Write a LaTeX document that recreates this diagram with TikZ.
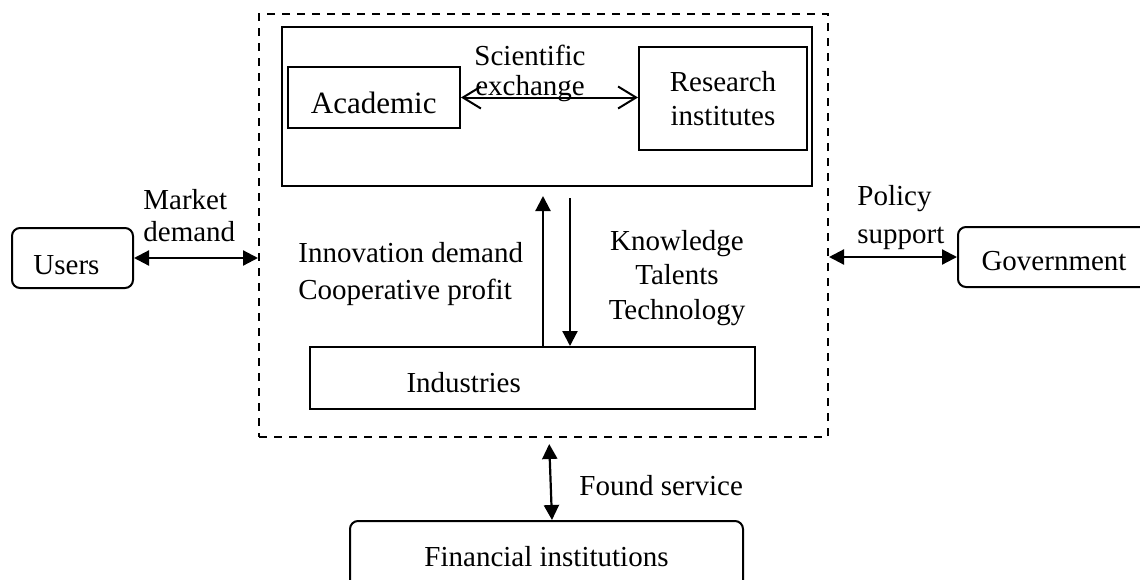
\documentclass[tikz,border=0pt]{standalone}
\usepackage{fontspec}
\setmainfont{Liberation Serif}
\usetikzlibrary{arrows.meta,calc}
\newcommand\dropby[2]{\raisebox{-#1}[\height][\depth]{#2}}
\begin{document}
\begin{tikzpicture}[x=0.5pt,y=-0.5pt,
  box/.style={draw, line width=1pt, inner sep=0pt, font=\fontsize{14.5}{17}\selectfont},
  rbox/.style={box, rounded corners=4pt},
  lbl/.style={inner sep=0pt},
  arr/.style={line width=1.1pt, {Triangle[length=7.5pt,width=7.5pt]}-{Triangle[length=7.5pt,width=7.5pt]}},
  uarr/.style={line width=1.1pt, -{Triangle[length=7.5pt,width=7.5pt]}},
  barbarr/.style={line width=1pt, {Straight Barb[length=9pt,width=11pt,line width=1pt]}-{Straight Barb[length=9pt,width=11pt,line width=1pt]}}
]
\useasboundingbox (0,0) rectangle (1140,579);
\clip (0,0) rectangle (1140,579);

% boxes
\node[box, dash pattern=on 4pt off 3.5pt, minimum width=284.5pt, minimum height=211.5pt] (outer) at (543.5,225.5) {};
\node[box, minimum width=265pt, minimum height=79.5pt] (inner) at (547,106.5) {};
\node[box, minimum width=86.25pt, minimum height=30.5pt, font=\fontsize{15.5}{18}\selectfont] (acad) at (373.75,97.5) {\dropby{2.5pt}{Academic}};
\node[box, minimum width=84pt, minimum height=51.5pt, align=center] (res) at (723,98.5) {Research\\institutes};
\node[box, minimum width=222.5pt, minimum height=31pt] (ind) at (532.5,378) {\makebox[222.5pt][l]{\hspace{48.25pt}\dropby{2.5pt}{Industries}}};
\node[rbox, minimum width=60.5pt, minimum height=30pt] (users) at (72.5,258) {\dropby{3.5pt}{Users}\hspace*{6pt}};
\node[rbox, minimum width=96pt, minimum height=30pt] (gov) at (1054,257) {\dropby{2pt}{Government}};
\node[rbox, minimum width=196.5pt, minimum height=35.5pt] (fin) at (546.5,556.5) {Financial institutions};

% labels
\node[lbl, align=center, font=\fontsize{14.5}{15}\selectfont] (scilbl) at (530,73.5) {Scientific\\exchange};
\node[lbl, align=left, anchor=west, font=\fontsize{14.5}{16}\selectfont] (mktlbl) at (143,216) {Market\\demand};
\node[lbl, align=left, anchor=west, font=\fontsize{14.5}{19}\selectfont] (pollbl) at (857,217.5) {Policy\\support};
\node[lbl, align=left, anchor=west, font=\fontsize{14.5}{18.5}\selectfont] (innlbl) at (298,274) {Innovation demand\\Cooperative profit};
\node[lbl, align=center, font=\fontsize{14.5}{17.25}\selectfont] (knwlbl) at (677,278) {Knowledge\\Talents\\Technology};
\node[lbl, anchor=base west, font=\fontsize{14.5}{17}\selectfont] (fndlbl) at (579,495) {Found service};

% connectors
\coordinate (xup) at (543,0);
\coordinate (xdn) at (570,0);
\coordinate (fa) at (549,0);
\coordinate (fb) at (552,0);
\draw[arr] (users.east) -- (users.east -| outer.west);
\draw[arr] (gov.west -| outer.east) -- (gov.west);
\draw[barbarr] (acad.east) -- (acad.east -| res.west);
\draw[uarr, shorten >=4.5pt] (ind.north -| xup) -- (inner.south -| xup);
\draw[uarr, shorten <=5.5pt] (inner.south -| xdn) -- (ind.north -| xdn);
\draw[arr, shorten <=3pt] (outer.south -| fa) -- (fin.north -| fb);
\end{tikzpicture}
\end{document}
